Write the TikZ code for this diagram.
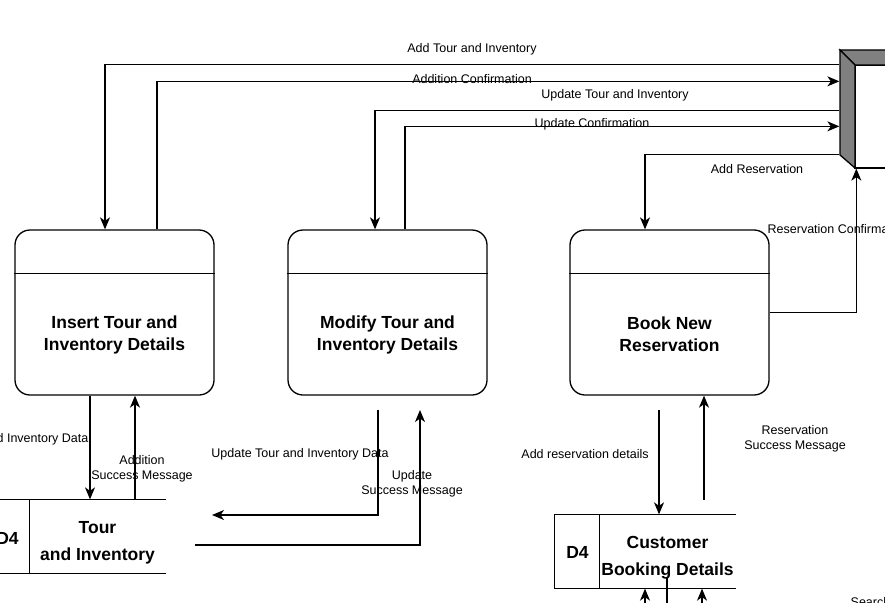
\documentclass[tikz,border=0pt]{standalone}
\usepackage{fontspec}
\setmainfont{Liberation Sans}
\usetikzlibrary{arrows.meta,positioning}

\begin{document}
\begin{tikzpicture}
  [x=1pt, y=-1pt, line width=1.3pt,
   proc/.style={draw, rectangle, rounded corners=15pt, minimum width=199pt, minimum height=165pt, inner sep=0pt},
   store/.style={minimum width=180pt, minimum height=73pt, inner sep=0pt},
   ptext/.style={font=\fontsize{17.5}{22}\selectfont\bfseries, align=center},
   stext/.style={font=\fontsize{17.5}{27}\selectfont\bfseries, align=center},
   lbl/.style={font=\fontsize{12.5}{15}\selectfont, align=center, inner sep=1pt},
   arr/.style={-{Stealth[length=12pt, width=10pt, inset=3.5pt]}}]
  \useasboundingbox (0,0) rectangle (885,602);
  \fill[white] (0,0) rectangle (885,602);
  \clip (0,0) rectangle (885,602);

  % processes
  \node[proc] (insert) at (114.5,312.5) {};
  \node[proc, right=72.7pt of insert] (modify) {};
  \node[proc, right=81.7pt of modify] (book) {};
  \foreach \p in {insert,modify,book}
    \draw ([yshift=-44pt]\p.north west) -- ([yshift=-44pt]\p.north east);
  \node[ptext] (insertname) at ([yshift=-22pt]insert.center) {Insert Tour and\\Inventory Details};
  \node[ptext] (modifyname) at ([yshift=-22pt]modify.center) {Modify Tour and\\Inventory Details};
  \node[ptext] (bookname) at ([yshift=-22pt]book.center) {Book New\\Reservation};

  % external entity (cut at the edge)
  \node[minimum width=160pt, minimum height=118pt, inner sep=0pt] (ext) at (920,109) {};
  \draw[fill=white] (855,65) rectangle (1000,168);
  \draw[fill=gray] (840,50) -- (1000,50) -- (1000,65) -- (855,65) -- cycle;
  \draw[fill=gray] (840,50) -- (855,65) -- (855,168) -- (840,155) -- cycle;

  % data stores
  \node[store] (tourbox) at (75,536.5) {};
  \node[store] (custbox) at (645,551.5) {};
  \foreach \s in {tourbox,custbox} {
    \draw (\s.north east) -- (\s.north west) -- (\s.south west) -- (\s.south east);
    \draw ([xshift=45pt]\s.north west) -- ([xshift=45pt]\s.south west);
  }
  \node[stext] (tourid) at ([xshift=-67.5pt,yshift=-2pt]tourbox.center) {D4};
  \node[stext] (tourname) at ([xshift=22.5pt,yshift=-6pt]tourbox.center) {Tour\\and Inventory};
  \node[stext] (custid) at ([xshift=-67.5pt,yshift=-1pt]custbox.center) {D4};
  \node[stext] (custname) at ([xshift=22.5pt,yshift=-6pt]custbox.center) {Customer\\Booking Details};

  % flows to and from the entity
  \draw[arr] ([yshift=-15pt]ext.north west) -| ([xshift=-9.5pt]insert.north);
  \draw[arr] ([xshift=42.5pt]insert.north) |- ([yshift=-32pt]ext.north west);
  \draw[arr] ([yshift=-61pt]ext.north west) -| ([xshift=-12.5pt]modify.north);
  \draw[arr] ([xshift=17.5pt]modify.north) |- ([yshift=-77pt]ext.north west);
  \draw[arr] ([yshift=-105pt]ext.north west) -| ([xshift=-24.5pt]book.north);
  \draw[arr] (book.east) -| ([xshift=17pt]ext.south west);

  \node[lbl] (addlbl) at (472,49) {Add Tour and Inventory};
  \node[lbl] (addconf) at (472,79) {Addition Confirmation};
  \node[lbl] (updlbl) at (615,95) {Update Tour and Inventory};
  \node[lbl] (updconf) at (592,124) {Update Confirmation};
  \node[lbl] (reslbl) at (757,169) {Add Reservation};
  \node[lbl, anchor=west] (resconf) at (766,229) {Reservation Confirmation};

  % flows to and from the stores
  \draw[arr] ([xshift=-24.5pt]insert.south) -- ([xshift=15pt]tourbox.north);
  \draw[arr] ([xshift=60pt]tourbox.north) -- ([xshift=20.5pt]insert.south);
  \coordinate (updin) at (378,410);
  \coordinate (updout) at (212,515);
  \coordinate (updback) at (195,545);
  \coordinate (updtip) at (420,410);
  \draw[arr] (updin) |- (updout);
  \draw[arr] (updback) -| (updtip);
  \coordinate (bookin) at (659,410);
  \coordinate (bookback) at (704,500);
  \draw[arr] (bookin) -- ([xshift=14pt]custbox.north);
  \draw[arr] (bookback) -- (bookback |- book.south);
  \coordinate (srcha) at (645,615);
  \coordinate (srchb) at (702,615);
  \coordinate (srchc) at (667,578);
  \coordinate (srchd) at (667,615);
  \draw[arr] (srcha) -- (custbox.south);
  \draw[arr] (srchb) -- ([xshift=57pt]custbox.south);
  \draw (srchc) -- (srchd);

  \node[lbl, anchor=east] (adddata) at (90,439) {Add Tour and Inventory Data};
  \node[lbl] (addmsg) at (142,469) {Addition\\Success Message};
  \node[lbl] (upddata) at (300,454) {Update Tour and Inventory Data};
  \node[lbl] (updmsg) at (412,484) {Update\\Success Message};
  \node[lbl] (resdata) at (585,454) {Add reservation details};
  \node[lbl] (resmsg) at (795,439) {Reservation\\Success Message};
  \node[lbl, anchor=north west] (srchlbl) at (849,596) {Search};
\end{tikzpicture}
\end{document}
